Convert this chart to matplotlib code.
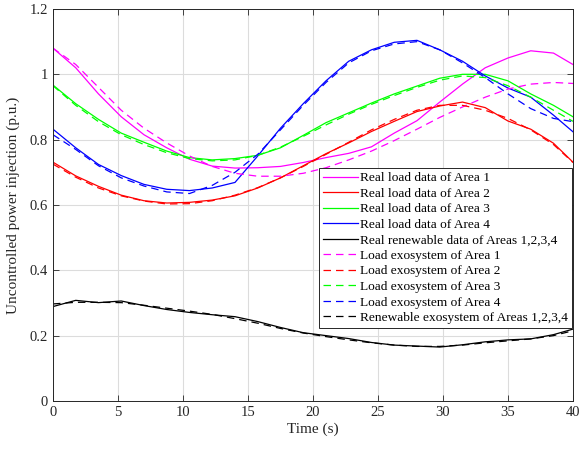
import matplotlib
matplotlib.use("Agg")
import matplotlib.pyplot as plt
import numpy as np

plt.rcParams['font.family'] = ['Liberation Serif', 'DejaVu Serif']
plt.rcParams['mathtext.fontset'] = 'stix'

t = [0, 1.75, 3.5, 5.25, 7, 8.75, 10.5, 12.25, 14, 15.75, 17.5, 19.25, 21,
     22.75, 24.5, 26.25, 28, 29.75, 31.5, 33.25, 35, 36.75, 38.5, 40]

real_a1 = [1.08, 1.02, 0.94, 0.870, 0.815, 0.775, 0.740, 0.719, 0.713, 0.714, 0.718, 0.730,
           0.745, 0.758, 0.778, 0.82, 0.858, 0.915, 0.97, 1.02, 1.05, 1.072, 1.065, 1.03]
exo_a1 = [1.08, 1.03, 0.96, 0.89, 0.835, 0.79, 0.75, 0.718, 0.697, 0.688, 0.688, 0.697,
          0.714, 0.738, 0.765, 0.797, 0.832, 0.868, 0.90, 0.93, 0.955, 0.97, 0.975, 0.972]
real_a2 = [0.731, 0.689, 0.657, 0.630, 0.613, 0.606, 0.608, 0.615, 0.628, 0.652, 0.683, 0.72,
           0.757, 0.79, 0.825, 0.856, 0.886, 0.903, 0.915, 0.898, 0.857, 0.832, 0.789, 0.731]
exo_a2 = [0.725, 0.685, 0.652, 0.628, 0.612, 0.603, 0.604, 0.613, 0.630, 0.653, 0.683, 0.718,
          0.755, 0.792, 0.83, 0.862, 0.89, 0.905, 0.905, 0.89, 0.865, 0.83, 0.785, 0.73]
real_a3 = [0.967, 0.91, 0.862, 0.82, 0.792, 0.765, 0.745, 0.738, 0.742, 0.752, 0.775, 0.813,
           0.852, 0.882, 0.912, 0.940, 0.964, 0.988, 1.0, 1.0, 0.98, 0.94, 0.905, 0.87]
exo_a3 = [0.965, 0.905, 0.855, 0.815, 0.785, 0.76, 0.742, 0.735, 0.738, 0.752, 0.777, 0.81,
          0.845, 0.878, 0.908, 0.935, 0.96, 0.982, 0.995, 0.99, 0.965, 0.93, 0.89, 0.856]
real_a4 = [0.832, 0.775, 0.724, 0.69, 0.663, 0.648, 0.644, 0.652, 0.669, 0.75, 0.835, 0.91,
           0.98, 1.04, 1.075, 1.098, 1.104, 1.075, 1.04, 0.995, 0.958, 0.93, 0.875, 0.824]
exo_a4 = [0.815, 0.77, 0.72, 0.683, 0.658, 0.64, 0.635, 0.66, 0.70, 0.755, 0.83, 0.905,
          0.975, 1.035, 1.072, 1.093, 1.10, 1.075, 1.035, 0.99, 0.94, 0.895, 0.865, 0.855]
real_ren = [0.289, 0.308, 0.301, 0.306, 0.292, 0.28, 0.271, 0.264, 0.258, 0.243, 0.225, 0.209,
            0.2, 0.191, 0.179, 0.171, 0.168, 0.165, 0.172, 0.181, 0.187, 0.19, 0.203, 0.22]
exo_ren = [0.297, 0.302, 0.302, 0.301, 0.293, 0.284, 0.275, 0.265, 0.252, 0.238, 0.222, 0.208,
           0.197, 0.187, 0.178, 0.171, 0.167, 0.167, 0.171, 0.178, 0.184, 0.19, 0.2, 0.215]

real_labels = ["Real load data of Area 1", "Real load data of Area 2",
               "Real load data of Area 3", "Real load data of Area 4",
               "Real renewable data of Areas 1,2,3,4"]
exo_labels = ["Load exosystem of Area 1", "Load exosystem of Area 2",
              "Load exosystem of Area 3", "Load exosystem of Area 4",
              "Renewable exosystem of Areas 1,2,3,4"]
colors = ["#ff00ff", "#ff0000", "#00ff00", "#0000ff", "#000000"]
real_series = [real_a1, real_a2, real_a3, real_a4, real_ren]
exo_series = [exo_a1, exo_a2, exo_a3, exo_a4, exo_ren]

fig = plt.figure(figsize=(5.81, 4.49), dpi=100)
ax = fig.add_axes([0.0912, 0.107, 0.895, 0.873])

for y, c, lab in zip(real_series, colors, real_labels):
    ax.plot(t, y, color=c, lw=0.9, label=lab)
for y, c, lab in zip(exo_series, colors, exo_labels):
    ax.plot(t, y, color=c, lw=0.9, linestyle=(0, (6, 4)), label=lab)

ax.set_xlim(0, 40)
ax.set_ylim(0, 1.2)
ax.set_xticks(np.arange(0, 41, 5))
ax.set_yticks([0, 0.2, 0.4, 0.6, 0.8, 1.0, 1.2])
ax.set_yticklabels(["0", "0.2", "0.4", "0.6", "0.8", "1", "1.2"])
ax.grid(True, color="#dcdcdc", lw=0.8)
ax.set_axisbelow(True)
ax.tick_params(direction="in", top=True, right=True, labelsize=10.5, length=4, width=0.6, colors="#262626")
for s in ax.spines.values():
    s.set_linewidth(0.7)
    s.set_color("#262626")
ax.set_xlabel("Time (s)", fontsize=11, color="#262626", labelpad=3)
ax.set_ylabel("Uncontrolled power injection (p.u.)", fontsize=11, color="#262626", labelpad=7)

leg = ax.legend(loc="lower right", bbox_to_anchor=(0.998, 0.186), fontsize=9.6,
                handlelength=2.6, handletextpad=0.15, labelspacing=0.24,
                borderpad=0.3, borderaxespad=0, frameon=True, fancybox=False,
                framealpha=1, edgecolor="#262626")
leg.get_frame().set_linewidth(0.7)

fig.savefig("out.png", dpi=100)
